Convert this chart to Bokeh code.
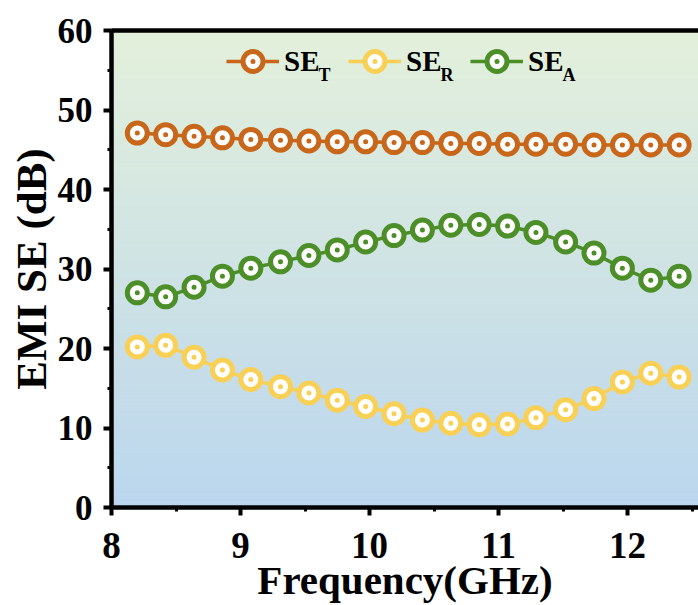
from bokeh.plotting import figure
from bokeh.models import (Range1d, LinearAxis, SingleIntervalTicker, FixedTicker,
                          Legend, LegendItem, Label)
from bokeh.embed import file_html
from bokeh.resources import INLINE

# ---- data ----
freq = [8.20, 8.42, 8.64, 8.86, 9.08, 9.31, 9.53, 9.75, 9.97, 10.19,
        10.41, 10.63, 10.85, 11.07, 11.29, 11.52, 11.74, 11.96, 12.18, 12.40]
se_t = [47.1, 46.9, 46.7, 46.5, 46.3, 46.2, 46.1, 46.0, 46.0, 45.9,
        45.9, 45.8, 45.8, 45.7, 45.7, 45.7, 45.6, 45.6, 45.6, 45.6]
se_r = [20.2, 20.4, 18.9, 17.3, 16.1, 15.2, 14.4, 13.5, 12.7, 11.8,
        11.0, 10.6, 10.4, 10.5, 11.3, 12.3, 13.7, 15.8, 16.9, 16.4]
se_a = [27.0, 26.5, 27.7, 29.1, 30.1, 30.9, 31.7, 32.4, 33.4, 34.2,
        34.9, 35.5, 35.6, 35.4, 34.6, 33.4, 32.0, 30.1, 28.6, 29.1]
series_names = ["SE", "SE", "SE"]
series_subs = ["T", "R", "A"]
series_colors = ["#C8661A", "#F8D056", "#4C8E28"]

X_START, X_END = 8.0, 12.55
Y_START, Y_END = 0, 60

FONT = "'Liberation Serif', 'Times New Roman', 'DejaVu Serif', serif"

p = figure(width=698, height=605, output_backend="svg", toolbar_location=None,
           x_range=Range1d(X_START, X_END), y_range=Range1d(Y_START, Y_END),
           min_border_left=111, min_border_right=0, min_border_top=30,
           min_border_bottom=97)
p.outline_line_color = None
p.xgrid.visible = False
p.ygrid.visible = False
p.background_fill_color = "white"
p.border_fill_color = "white"

# ---- vertical gradient background (green top -> blue bottom) ----
top_rgb = (227, 240, 219)
bot_rgb = (187, 214, 238)
n = 120
bands_b, bands_t, bands_c = [], [], []
for i in range(n):
    f = i / (n - 1)
    c = tuple(int(round(bot_rgb[k] + (top_rgb[k] - bot_rgb[k]) * f)) for k in range(3))
    bands_b.append(Y_START + (Y_END - Y_START) * i / n)
    bands_t.append(Y_START + (Y_END - Y_START) * (i + 1) / n)
    bands_c.append("#%02x%02x%02x" % c)
p.quad(left=X_START, right=X_END, bottom=bands_b, top=bands_t,
       fill_color=bands_c, line_color=bands_c, line_width=1)

# ---- series ----
renderers = []
for ys, col in zip([se_t, se_r, se_a], series_colors):
    ln = p.line(freq, ys, line_color=col, line_width=3.5)
    sc = p.scatter(freq, ys, marker="circle_dot", size=20, line_color=col,
                   line_width=5, fill_color="white")
    renderers.append([ln, sc])

# ---- axes ----
def style_axis(ax, interval):
    ax.ticker = SingleIntervalTicker(interval=interval, num_minor_ticks=2)
    ax.axis_line_width = 4.5
    ax.axis_line_color = "black"
    ax.major_tick_line_width = 4
    ax.major_tick_in = 0
    ax.major_tick_out = 8
    ax.minor_tick_line_width = 3
    ax.minor_tick_in = 0
    ax.minor_tick_out = 4
    ax.major_label_text_font = FONT
    ax.major_label_text_font_style = "bold"
    ax.major_label_text_color = "black"
    ax.axis_label_text_font = FONT
    ax.axis_label_text_font_style = "bold"
    ax.axis_label_text_color = "black"

style_axis(p.xaxis[0], 1)
style_axis(p.yaxis[0], 10)
p.xaxis.axis_label = "Frequency(GHz)"
p.yaxis.axis_label = "EMI SE (dB)"
p.xaxis.major_label_text_font_size = "37px"
p.yaxis.major_label_text_font_size = "35px"
p.xaxis.axis_label_text_font_size = "41px"
p.yaxis.axis_label_text_font_size = "43px"
p.xaxis.major_label_standoff = 17
p.yaxis.major_label_standoff = 11
p.xaxis.axis_label_standoff = -4
p.yaxis.axis_label_standoff = 0

top_axis = LinearAxis(ticker=FixedTicker(ticks=[]), axis_line_width=4.5,
                      axis_line_color="black", major_tick_line_color=None,
                      minor_tick_line_color=None, major_label_text_color=None)
p.add_layout(top_axis, "above")

# ---- legend ----
items = [LegendItem(label=nm, renderers=r) for nm, r in zip(series_names, renderers)]
LX = 115
legend = Legend(items=items, orientation="horizontal", location=(LX, 421),
                glyph_width=53, glyph_height=50, label_standoff=5, label_width=50,
                spacing=14, padding=0, margin=0, background_fill_alpha=0,
                border_line_color=None, label_text_font=FONT,
                label_text_font_style="bold", label_text_font_size="29px",
                label_text_color="black")
p.add_layout(legend)

pitch = 53 + 5 + 50 + 14
for i, sub in enumerate(series_subs):
    p.add_layout(Label(x=LX + pitch * i + 58 + 34, y=433, x_units="screen", y_units="screen",
                       text=sub, text_font=FONT, text_font_style="bold",
                       text_font_size="18px", text_color="black",
                       text_baseline="alphabetic"))

open("out.html", "w").write(file_html(p, INLINE))
